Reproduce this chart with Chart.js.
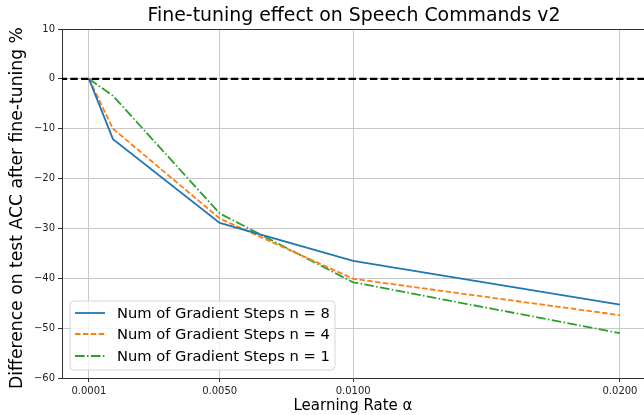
<!DOCTYPE html>
<html>
<head>
<meta charset="utf-8">
<script src="https://cdn.jsdelivr.net/npm/chart.js@4.4.0/dist/chart.umd.min.js"></script>
<style>
  html, body { margin: 0; padding: 0; background: #fff; }
  #wrap { width: 644px; height: 415px; }
</style>
</head>
<body>
<div id="wrap"><canvas id="chart"></canvas></div>
<script>
// data
const learningRates = [0.0001, 0.001, 0.005, 0.01, 0.02];
const steps8 = [0, -12.1, -28.9, -36.5, -45.3];
const steps4 = [0, -10.0, -28.0, -40.1, -47.4];
const steps1 = [0, -3.4, -27.0, -40.8, -51.0];
const seriesNames = ['Num of Gradient Steps n = 8', 'Num of Gradient Steps n = 4', 'Num of Gradient Steps n = 1'];
const xTicks = [0.0001, 0.0050, 0.0100, 0.0200];
const zeroLineX = [-0.001, 0.022];

const FONT = 'DejaVu Sans';
const colors = ['#1f77b4', '#ff7f0e', '#2ca02c'];
const dashes = [[], [5.5, 2.4], [9.6, 2.4, 1.5, 2.4]];

function pts(ys) {
  return learningRates.map((x, i) => ({ x: x, y: ys[i] }));
}

const datasets = [steps8, steps4, steps1].map((ys, i) => ({
  label: seriesNames[i],
  data: pts(ys),
  borderColor: colors[i],
  backgroundColor: colors[i],
  borderWidth: 1.8,
  borderDash: dashes[i],
  pointRadius: 0,
  tension: 0,
  fill: false
}));
datasets.unshift({
  label: 'zero',
  data: zeroLineX.map(x => ({ x: x, y: 0 })),
  borderColor: '#000',
  borderWidth: 2.2,
  borderDash: [7.5, 3.2],
  pointRadius: 0,
  fill: false
});

// title, y label, in-plot legend
const extras = {
  id: 'extras',
  afterDraw(chart) {
    const ctx = chart.ctx;
    ctx.save();
    ctx.fillStyle = '#000';
    ctx.font = '18.9px "' + FONT + '"';
    ctx.textAlign = 'center';
    ctx.textBaseline = 'middle';
    ctx.fillText('Fine-tuning effect on Speech Commands v2', 354, 16);

    ctx.save();
    ctx.translate(18, 208);
    ctx.rotate(-Math.PI / 2);
    ctx.font = '17.2px "' + FONT + '"';
    ctx.fillText('Difference on test ACC after fine-tuning %', 0, 0);
    ctx.restore();

    // legend box
    const bx = 70, by = 301, bw = 265, bh = 69, r = 4;
    ctx.beginPath();
    ctx.moveTo(bx + r, by);
    ctx.arcTo(bx + bw, by, bx + bw, by + bh, r);
    ctx.arcTo(bx + bw, by + bh, bx, by + bh, r);
    ctx.arcTo(bx, by + bh, bx, by, r);
    ctx.arcTo(bx, by, bx + bw, by, r);
    ctx.closePath();
    ctx.fillStyle = 'rgba(255,255,255,0.8)';
    ctx.fill();
    ctx.strokeStyle = '#d6d6d6';
    ctx.lineWidth = 1;
    ctx.stroke();

    ctx.font = '14.7px "' + FONT + '"';
    ctx.textAlign = 'left';
    const rows = [313, 334, 356];
    for (let i = 0; i < 3; i++) {
      const ds = chart.data.datasets[i + 1];
      ctx.beginPath();
      ctx.setLineDash(ds.borderDash);
      ctx.strokeStyle = ds.borderColor;
      ctx.lineWidth = 1.8;
      ctx.moveTo(75, rows[i]);
      ctx.lineTo(105, rows[i]);
      ctx.stroke();
      ctx.setLineDash([]);
      ctx.fillStyle = '#000';
      ctx.fillText(ds.label, 117, rows[i] + 1);
    }
    ctx.restore();
  }
};

new Chart(document.getElementById('chart'), {
  type: 'line',
  data: { datasets: datasets },
  options: {
    responsive: true,
    maintainAspectRatio: false,
    animation: false,
    layout: { padding: { top: 29, right: 0, left: 0, bottom: 0 } },
    plugins: {
      legend: { display: false },
      title: { display: false },
      tooltip: { enabled: false }
    },
    scales: {
      x: {
        type: 'linear',
        min: -0.00091,
        max: 0.0209,
        afterBuildTicks: (scale) => { scale.ticks = xTicks.map(v => ({ value: v })); },
        afterFit: (scale) => { scale.height = 37; },
        ticks: {
          callback: (v) => v.toFixed(4),
          color: '#222',
          font: { family: FONT, size: 10 },
          padding: 3,
          maxRotation: 0,
          autoSkip: false
        },
        grid: { color: '#c8c8c8', lineWidth: 1, tickLength: 4, tickColor: '#333' },
        border: { display: true, color: '#333', width: 1 },
        title: {
          display: true,
          text: 'Learning Rate α',
          color: '#000',
          font: { family: FONT, size: 15 },
          padding: { top: 0, bottom: 0 }
        }
      },
      y: {
        min: -60,
        max: 10,
        afterFit: (scale) => { scale.width = 62; },
        ticks: {
          stepSize: 10,
          callback: (v) => (v < 0 ? '\u2212' + Math.abs(v) : String(v)),
          color: '#222',
          font: { family: FONT, size: 10 },
          padding: 3
        },
        grid: {
          color: (c) => (c.tick && c.tick.value === 10 ? '#333' : '#c8c8c8'),
          lineWidth: 1,
          tickLength: 4,
          tickColor: '#333'
        },
        border: { display: true, color: '#333', width: 1 }
      }
    }
  },
  plugins: [extras]
});
</script>
</body>
</html>
